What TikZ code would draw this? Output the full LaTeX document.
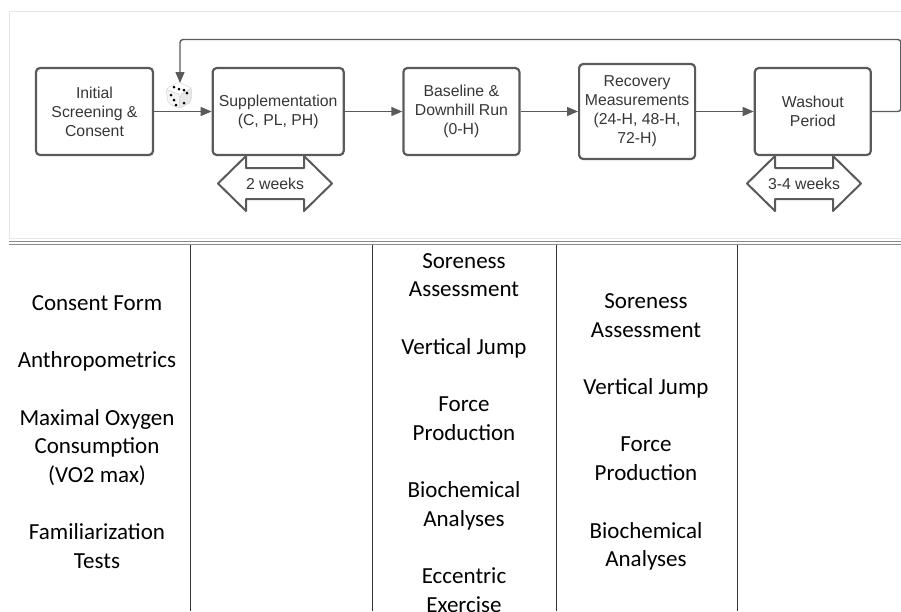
\documentclass[tikz,border=0pt]{standalone}
\usepackage{fontspec}
\setmainfont{Liberation Sans}
\newfontfamily\tabfont{Carlito}
\usetikzlibrary{positioning,arrows.meta}
\definecolor{boxgray}{HTML}{5A5A5A}
\definecolor{txtgray}{HTML}{363636}
\definecolor{framegray}{HTML}{E6E6E6}
\definecolor{rulegray}{HTML}{8C8C8C}
\begin{document}
\begin{tikzpicture}[x=1pt,y=-1pt,line join=round,>={Triangle[length=11pt,width=9pt]},
	node distance=57.5pt,
	stage/.style={draw=boxgray,line width=2.2pt,rounded corners=4pt,minimum width=116pt,minimum height=87pt,
		inner sep=0pt,align=center,text=txtgray,font=\fontsize{15.8}{19}\selectfont},
	flow/.style={->,draw=boxgray,fill=boxgray,line width=1.4pt},
	span/.style={draw=boxgray,line width=2pt,fill=white},
	cell/.style={align=center,font=\tabfont\fontsize{23}{28.7}\selectfont}]
	\useasboundingbox (0,0) rectangle (901,611);
	%\draw[gray!20](0,0)grid[step=50](901,611);
	% frame of the flow panel
	\draw[framegray,line width=0.8pt] (9,238)--(9,11)--(901,11);
	\draw[framegray,line width=0.8pt] (9,238)--(901,238);
	% stages
	\node[stage,minimum width=117pt] (screen) at (94.5,111.5) {Initial\\Screening \&\\Consent};
	\node[stage,minimum width=131pt,right=of screen] (supp) {Supplementation\\(C, PL, PH)};
	\node[stage,right=of supp] (base) {Baseline \&\\Downhill Run\\(0-H)};
	\node[stage,minimum height=95pt,right=of base] (recov) {Recovery\\Measurements\\(24-H, 48-H,\\72-H)};
	\node[stage,right=of recov] (wash) {Washout\\Period};
	\draw[flow] (screen)--(supp);
	\draw[flow] (supp)--(base);
	\draw[flow] (base)--(recov);
	\draw[flow] (recov)--(wash);
	\coordinate (loopin) at (180,83);
	\draw[flow,fill=none,rounded corners=3pt] (wash.east)--++(29,0)--++(0,-72)-|(loopin);
	% durations
	\foreach \cx/\lbl/\nm in {275/2 weeks/twowk,804/3-4 weeks/washwk}{
		\draw[span] (\cx-57,183.5)--++(28,-27.5)--++(0,12)--++(58,0)--++(0,-12)--++(28,27.5)
			--++(-28,27.5)--++(0,-12)--++(-58,0)--++(0,12)--cycle;
		\node[text=txtgray,font=\fontsize{15.8}{19}\selectfont] (\nm) at (\cx,183.5) {\lbl};
	}
	% randomisation die
	\begin{scope}[shift={(179,96)},draw=gray!35,line width=0.4pt,rounded corners=2pt]
		\filldraw[fill=white] (-1,-14)--(-13,-7)--(1,-1)--(13,-8)--cycle;
		\filldraw[fill=gray!8] (-13,-7)--(1,-1)--(0,13)--(-11,7)--cycle;
		\filldraw[fill=gray!18] (1,-1)--(13,-8)--(12,6)--(0,13)--cycle;
		\foreach \p in {(-5,-9),(0,-7),(5,-6),(-8,-1),(-5,4),(-3,9),(8,-3),(5,7)}
			\fill[black] \p circle (1.5);
	\end{scope}
	% table below
	\draw[rulegray,line width=0.9pt] (9,241)--(901,241);
	\draw[rulegray,line width=0.9pt] (9,244.5)--(901,244.5);
	\foreach \x in {190,372,556,737} \draw[line width=0.9pt,black!80] (\x,245)--(\x,611);
	\node[cell] (prep) at (97,432) {Consent Form\\[28.7pt]Anthropometrics\\[28.7pt]Maximal Oxygen\\Consumption\\(VO2 max)\\[28.7pt]Familiarization\\Tests};
	\node[cell] (day0) at (464,433) {Soreness\\Assessment\\[28.7pt]Vertical Jump\\[28.7pt]Force\\Production\\[28.7pt]Biochemical\\Analyses\\[28.7pt]Eccentric\\Exercise};
	\node[cell] (later) at (646,432) {Soreness\\Assessment\\[28.7pt]Vertical Jump\\[28.7pt]Force\\Production\\[28.7pt]Biochemical\\Analyses};
\end{tikzpicture}
\end{document}
